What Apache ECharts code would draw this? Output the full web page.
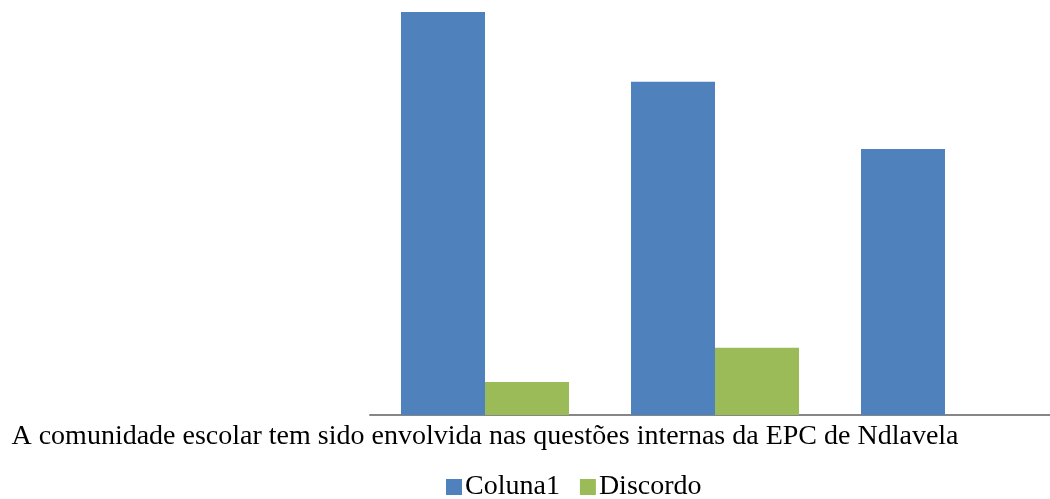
<!DOCTYPE html>
<html>
<head>
<meta charset="utf-8">
<script src="https://cdn.jsdelivr.net/npm/echarts@6/dist/echarts.min.js"></script>
<style>
  html, body { margin: 0; padding: 0; background: #fff; }
  #main { width: 1050px; height: 499px; }
</style>
</head>
<body>
<div id="main"></div>
<script type="text/javascript">
// dados do gráfico
var categorias = ['A comunidade escolar tem sido envolvida nas questões internas da EPC de Ndlavela', '', ''];
var coluna1 = [60, 49.6, 39.6];
var discordo = [4.9, 10, 0];

var myChart = echarts.init(document.getElementById('main'));

var fonte = '"Liberation Serif", "DejaVu Serif", serif';

var option = {
  backgroundColor: '#ffffff',
  textStyle: { fontFamily: fonte },
  grid: { left: 370, right: -10, top: 12, bottom: 84, containLabel: false, outerBoundsMode: 'none' },
  legend: {
    top: 473,
    left: 446,
    padding: 0,
    itemWidth: 16,
    itemHeight: 16,
    itemGap: 20,
    icon: 'rect',
    textStyle: { fontFamily: fonte, fontSize: 28, color: '#000', padding: [0, 0, 0, -2] },
    data: ['Coluna1', 'Discordo']
  },
  xAxis: {
    type: 'category',
    data: categorias,
    axisLine: { lineStyle: { color: '#868686', width: 2 } },
    axisTick: { show: false },
    axisLabel: {
      interval: 0,
      margin: 8,
      color: '#000',
      fontFamily: fonte,
      fontSize: 28
    }
  },
  yAxis: {
    type: 'value',
    min: 0,
    max: 60,
    show: false,
    splitLine: { show: false }
  },
  series: [
    {
      name: 'Coluna1',
      type: 'bar',
      data: coluna1,
      barWidth: 84,
      barGap: '0%',
      itemStyle: { color: '#4F81BD' }
    },
    {
      name: 'Discordo',
      type: 'bar',
      data: discordo,
      barWidth: 84,
      itemStyle: { color: '#9BBB59' }
    }
  ]
};

myChart.setOption(option);
</script>
</body>
</html>
